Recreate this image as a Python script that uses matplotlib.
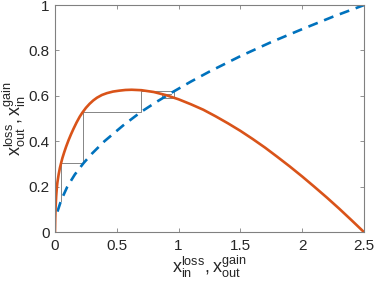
import numpy as np
import matplotlib
matplotlib.use("Agg")
import matplotlib.pyplot as plt

plt.rcParams['font.family'] = ['Liberation Sans', 'DejaVu Sans']
plt.rcParams['mathtext.default'] = 'regular'

# orange curve
gain_x = [0, 0.002, 0.005, 0.01, 0.015, 0.02, 0.03, 0.04, 0.05, 0.06, 0.075, 0.09,
          0.11, 0.13, 0.15, 0.175, 0.2, 0.22, 0.25, 0.28, 0.31, 0.34, 0.38, 0.42,
          0.47, 0.52, 0.57, 0.62, 0.7, 0.8, 0.9, 1.0, 1.1, 1.2, 1.3, 1.4, 1.5,
          1.6, 1.7, 1.8, 1.9, 2.0, 2.1, 2.2, 2.3, 2.4, 2.5]
gain_y = [0, 0.06, 0.11, 0.16, 0.195, 0.22, 0.255, 0.283, 0.305, 0.326, 0.352, 0.376,
          0.405, 0.431, 0.455, 0.483, 0.508, 0.525, 0.547, 0.565, 0.58, 0.592, 0.604, 0.612,
          0.619, 0.623, 0.626, 0.627, 0.625, 0.617, 0.603, 0.585, 0.563, 0.539, 0.51, 0.479, 0.446,
          0.41, 0.372, 0.331, 0.289, 0.245, 0.199, 0.152, 0.103, 0.052, 0]

# blue dashed curve
loss_x = [0.02, 0.05, 0.1, 0.16, 0.23, 0.3, 0.4, 0.55, 0.69, 0.82, 0.95, 1.1,
          1.25, 1.5, 1.75, 2.0, 2.25, 2.5]
loss_y = [0.09, 0.14, 0.2, 0.253, 0.303, 0.346, 0.4, 0.469, 0.527, 0.573, 0.616, 0.663,
          0.707, 0.775, 0.837, 0.894, 0.949, 1.0]

# cobweb steps
cob_x = [0.046, 0.046, 0.229, 0.229, 0.694, 0.694, 0.966, 0.966, 0.865, 0.865, 0.935]
cob_y = [0.136, 0.303, 0.303, 0.527, 0.527, 0.621, 0.621, 0.59, 0.59, 0.608, 0.608]

xticks = [0, 0.5, 1, 1.5, 2, 2.5]
xticklabels = ['0', '0.5', '1', '1.5', '2', '2.5']
yticks = [0, 0.2, 0.4, 0.6, 0.8, 1]
yticklabels = ['0', '0.2', '0.4', '0.6', '0.8', '1']

fig = plt.figure(figsize=(3.74, 2.84), dpi=100)
ax = fig.add_axes([0.147, 0.183, 0.826, 0.799])

ax.plot(cob_x, cob_y, color='#858585', lw=0.7)
ax.plot(loss_x, loss_y, color='#0072BD', lw=1.9, dashes=(3.8, 2.6))
ax.plot(gain_x, gain_y, color='#D95319', lw=1.9)

ax.set_xlim(0, 2.5)
ax.set_ylim(0, 1)
ax.set_xticks(xticks)
ax.set_xticklabels(xticklabels)
ax.set_yticks(yticks)
ax.set_yticklabels(yticklabels)
ax.tick_params(direction='in', length=3, width=0.6, color='#808080',
               labelsize=11, labelcolor='#262626', top=True, right=True)
ax.tick_params(axis='x', pad=5)
ax.tick_params(axis='y', pad=4)
for s in ax.spines.values():
    s.set_color('#808080')
    s.set_linewidth(0.8)

ax.set_xlabel(r'$x_{in}^{loss}, x_{out}^{gain}$', fontsize=13, color='#262626', labelpad=0)
ax.set_ylabel(r'$x_{out}^{loss}, x_{in}^{gain}$', fontsize=13, color='#262626', labelpad=0)

fig.savefig('out.png', dpi=100)
